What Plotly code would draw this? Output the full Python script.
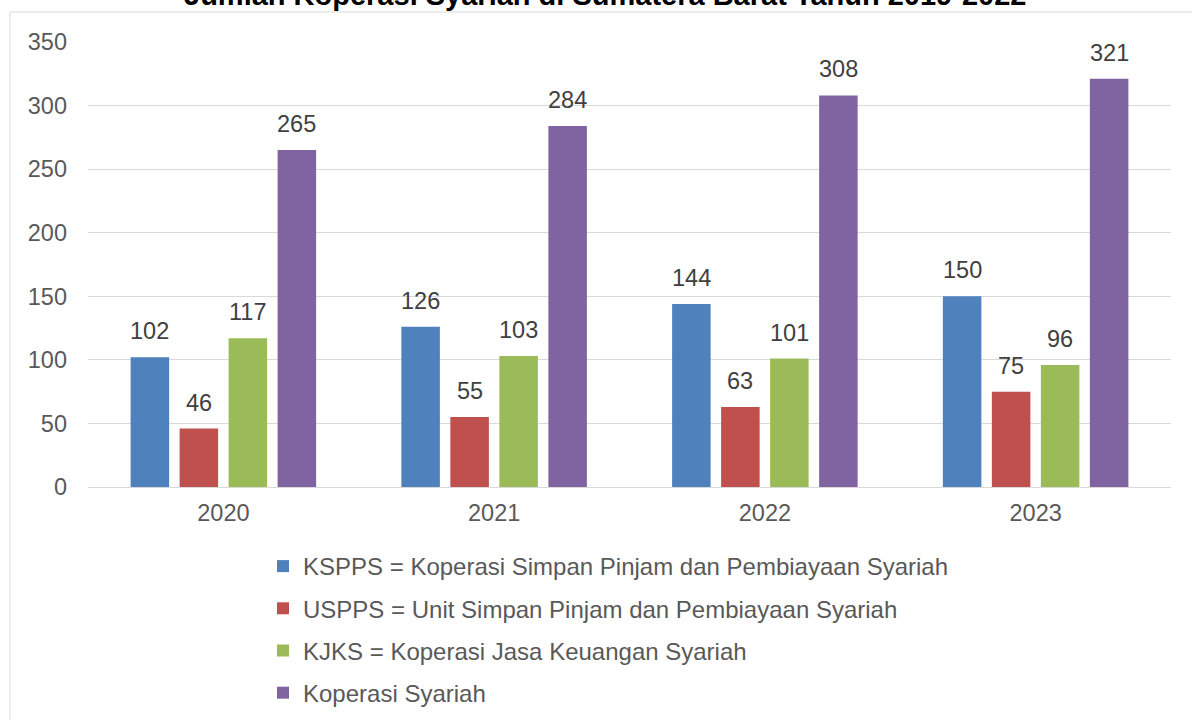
import plotly.graph_objects as go

years = ["2020", "2021", "2022", "2023"]
series_names = [
    "KSPPS = Koperasi Simpan Pinjam dan Pembiayaan Syariah",
    "USPPS = Unit Simpan Pinjam dan Pembiayaan Syariah",
    "KJKS = Koperasi Jasa Keuangan Syariah",
    "Koperasi Syariah",
]
kspps = [102, 126, 144, 150]
uspps = [46, 55, 63, 75]
kjks = [117, 103, 101, 96]
koperasi = [265, 284, 308, 321]
title_text = "Jumlah Koperasi Syariah di Sumatera Barat Tahun 2019-2022"

colors = ["#4F81BD", "#C0504D", "#9BBB59", "#8064A2"]
all_values = [kspps, uspps, kjks, koperasi]
FONT = "Liberation Sans, Arial, sans-serif"
FS = 23.5

W, H = 1192, 720
ML, MR, MT, MB = 88, 21, 42, 233
plot_w = W - ML - MR
plot_h = H - MT - MB
BARGAP = 0.276
GROUPGAP = 0.214

fig = go.Figure()
for i, (name, vals) in enumerate(zip(series_names, all_values)):
    fig.add_trace(go.Bar(
        x=years, y=vals, name=name, marker_color=colors[i],
        marker_line_width=0, legendgroup=f"g{i}",
    ))

slot = plot_w / len(years) * (1 - BARGAP) / len(all_values)
annotations = []
for i, vals in enumerate(all_values):
    for j, v in enumerate(vals):
        annotations.append(dict(
            x=j, y=v, xref="x", yref="y", text=str(v), showarrow=False,
            xshift=(i - 1.5) * slot, yshift=11, yanchor="bottom",
            font=dict(family=FONT, size=FS, color="#404040"),
        ))

def px_to_paper_x(px):
    return (px - ML) / plot_w

def px_to_paper_y(py):
    return (H - MB - py) / plot_h

annotations.append(dict(
    x=px_to_paper_x(605), y=px_to_paper_y(13), xref="paper", yref="paper",
    text=f"<b>{title_text}</b>", showarrow=False, yanchor="bottom", xanchor="center",
    font=dict(family=FONT, size=29, color="#000000"),
))

fig.update_layout(
    width=W, height=H,
    margin=dict(l=ML, r=MR, t=MT, b=MB),
    paper_bgcolor="white", plot_bgcolor="white",
    barmode="group", bargap=BARGAP, bargroupgap=GROUPGAP,
    font=dict(family=FONT, size=FS, color="#595959"),
    showlegend=True,
    legend=dict(
        orientation="v", x=px_to_paper_x(263), xanchor="left",
        yref="container", y=(H - 544) / H, yanchor="top",
        font=dict(family=FONT, size=24, color="#595959"),
        tracegroupgap=8, traceorder="grouped",
        bgcolor="rgba(0,0,0,0)",
    ),
    annotations=annotations,
    shapes=[dict(
        type="rect", xref="paper", yref="paper",
        x0=px_to_paper_x(10), x1=px_to_paper_x(1250),
        y0=px_to_paper_y(800), y1=px_to_paper_y(12),
        line=dict(color="#d9d9d9", width=1), fillcolor="rgba(0,0,0,0)", layer="below",
    )],
)
fig.update_xaxes(
    type="category", range=[-0.5, len(years) - 0.5], autorange=False,
    showgrid=False, showline=True, linecolor="#d9d9d9", linewidth=1,
    ticks="", ticklabelstandoff=5, tickfont=dict(size=FS, color="#595959"),
)
fig.update_yaxes(
    range=[0, 350], dtick=50, showgrid=True, gridcolor="#d9d9d9", gridwidth=1,
    zeroline=False, showline=False, ticks="", ticklabelstandoff=20,
    tickfont=dict(size=FS, color="#595959"),
)

fig.write_html(
    "out.html",
    config={"displayModeBar": False},
    post_script="document.body.style.margin='0';",
)
